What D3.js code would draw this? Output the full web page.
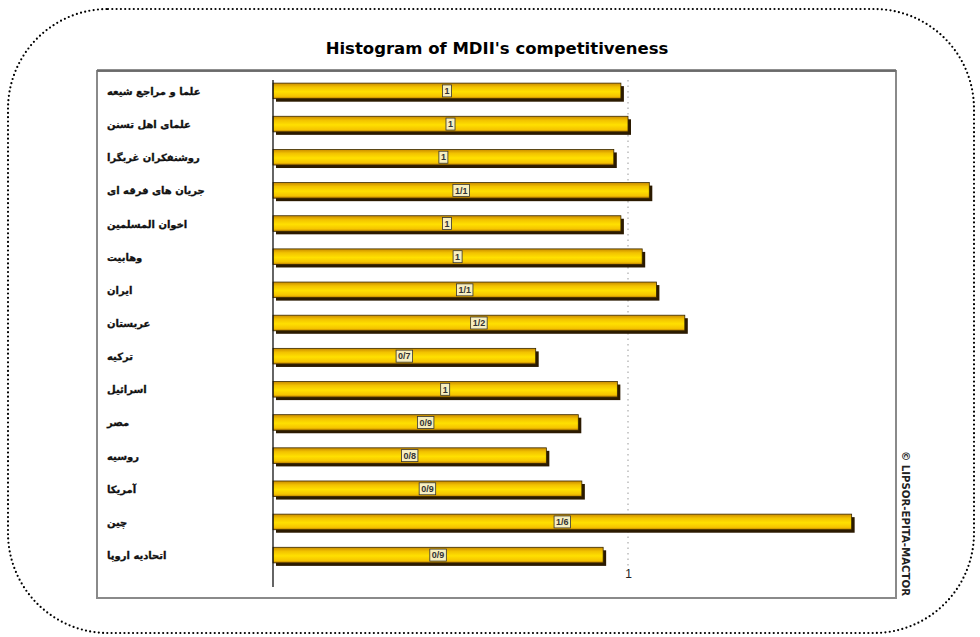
<!DOCTYPE html>
<html>
<head>
<meta charset="utf-8">
<script src="https://cdn.jsdelivr.net/npm/d3@7"></script>
<style>
  body { margin: 0; background: #fff; }
</style>
</head>
<body>
<script>
'use strict';

// actors (top to bottom) and their competitiveness
const actors = [
    "علما و مراجع شیعه",
    "علمای اهل تسنن",
    "روشنفکران غربگرا",
    "جریان های فرقه ای",
    "اخوان المسلمین",
    "وهابیت",
    "ایران",
    "عربستان",
    "ترکیه",
    "اسرائیل",
    "مصر",
    "روسیه",
    "آمریکا",
    "چین",
    "اتحادیه اروپا"
];
const scores = [0.98, 1.0, 0.96, 1.06, 0.98, 1.04, 1.08, 1.16, 0.74, 0.97, 0.86, 0.77, 0.87, 1.63, 0.93];
const tickValues = [1];

const width = 980, height = 637;

let svg = d3.select("body").append("svg")
    .attr("width", width)
    .attr("height", height);

// outer dotted rounded frame
svg.append("rect")
    .attr("x", 8).attr("y", 9)
    .attr("width", 966).attr("height", 624)
    .attr("rx", 100).attr("ry", 100)
    .attr("fill", "none")
    .attr("stroke", "#000")
    .attr("stroke-width", 2.2)
    .attr("stroke-linecap", "round")
    .attr("stroke-dasharray", "0 4.3");

// inner chart box
svg.append("rect")
    .attr("x", 97).attr("y", 71)
    .attr("width", 799).attr("height", 527)
    .attr("fill", "none")
    .attr("stroke", "#8a8a8a")
    .attr("stroke-width", 2);
svg.append("line")
    .attr("x1", 97).attr("x2", 896)
    .attr("y1", 70.5).attr("y2", 70.5)
    .attr("stroke", "#6a6a6a")
    .attr("stroke-width", 2.5);

svg.append("text")
    .attr("x", 497).attr("y", 54)
    .attr("text-anchor", "middle")
    .style("font-family", "DejaVu Sans, sans-serif")
    .style("font-weight", "bold")
    .style("font-size", "16.5px")
    .text("Histogram of MDII's competitiveness");

let defs = svg.append("defs");
let grad = defs.append("linearGradient")
    .attr("id", "barGrad")
    .attr("x1", 0).attr("y1", 0).attr("x2", 0).attr("y2", 1);
grad.append("stop").attr("offset", "0%").attr("stop-color", "#c98a00");
grad.append("stop").attr("offset", "25%").attr("stop-color", "#f2c200");
grad.append("stop").attr("offset", "55%").attr("stop-color", "#ffe000");
grad.append("stop").attr("offset", "85%").attr("stop-color", "#f5c400");
grad.append("stop").attr("offset", "100%").attr("stop-color", "#b87800");

let x = d3.scaleLinear().domain([0, 1]).range([273, 628]);
let y = d3.scaleBand().domain(actors).range([74.5, 571.5]).paddingInner(0.53).paddingOuter(0.26);

// dotted reference line at each tick
svg.append("g")
    .selectAll("line")
    .data(tickValues)
    .enter().append("line")
    .attr("x1", function(d) { return x(d); })
    .attr("x2", function(d) { return x(d); })
    .attr("y1", 80).attr("y2", 566)
    .attr("stroke", "#999")
    .attr("stroke-width", 1)
    .attr("stroke-dasharray", "1.5 4");

let axis = svg.append("g")
    .attr("transform", "translate(0,566)")
    .call(d3.axisBottom(x).tickValues(tickValues).tickSize(0).tickPadding(3).tickFormat(d3.format("d")));
axis.select(".domain").remove();
axis.selectAll("text")
    .style("font-family", "Liberation Sans, Arial, sans-serif")
    .style("font-size", "12px")
    .style("fill", "#222");

// bars with shadow
let rows = svg.append("g").selectAll("g")
    .data(actors)
    .enter().append("g");

rows.append("rect")
    .attr("x", x(0) + 3)
    .attr("y", function(d) { return y(d) + 3; })
    .attr("width", function(d, i) { return x(scores[i]) - x(0); })
    .attr("height", y.bandwidth())
    .attr("fill", "#2b1a00");

rows.append("rect")
    .attr("x", x(0))
    .attr("y", function(d) { return y(d); })
    .attr("width", function(d, i) { return x(scores[i]) - x(0); })
    .attr("height", y.bandwidth())
    .attr("fill", "url(#barGrad)")
    .attr("stroke", "#3a2a00")
    .attr("stroke-width", 0.8);

// axis line
svg.append("line")
    .attr("x1", x(0)).attr("x2", x(0))
    .attr("y1", 80).attr("y2", 587)
    .attr("stroke", "#111")
    .attr("stroke-width", 1.3);

// category labels
rows.append("text")
    .attr("x", 107)
    .attr("y", function(d) { return y(d) + y.bandwidth() / 2 + 4; })
    .style("font-family", "DejaVu Sans, sans-serif")
    .style("font-weight", "bold")
    .style("font-size", "10px")
    .attr("fill", "#111")
    .attr("stroke", "#111")
    .attr("stroke-width", 0.3)
    .text(function(d) { return d; });

// value labels in small boxes at the middle of each bar
let fmt = function(v) {
    let s = d3.format(".1f")(v);
    if (s.endsWith(".0")) s = s.slice(0, -2);
    return s.replace(".", "/");
};

let vlab = rows.append("g")
    .attr("transform", function(d, i) {
        return "translate(" + ((x(0) + x(scores[i])) / 2) + "," + (y(d) + y.bandwidth() / 2) + ")";
    });

vlab.append("text")
    .attr("text-anchor", "middle")
    .attr("y", 3.2)
    .style("font-family", "Liberation Sans, Arial, sans-serif")
    .style("font-size", "9px")
    .style("font-weight", "bold")
    .attr("fill", "#333")
    .text(function(d, i) { return fmt(scores[i]); })
    .each(function() {
        let w = this.getComputedTextLength();
        d3.select(this.parentNode).insert("rect", "text")
            .attr("x", -w / 2 - 2).attr("y", -6)
            .attr("width", w + 4).attr("height", 12)
            .attr("fill", "#f7efc0")
            .attr("stroke", "#333")
            .attr("stroke-width", 0.8);
    });

// copyright
svg.append("text")
    .attr("transform", "translate(902,451) rotate(90)")
    .style("font-family", "DejaVu Sans, sans-serif")
    .style("font-weight", "bold")
    .style("font-size", "10.2px")
    .attr("fill", "#222")
    .text("© LIPSOR-EPITA-MACTOR");
</script>
</body>
</html>
